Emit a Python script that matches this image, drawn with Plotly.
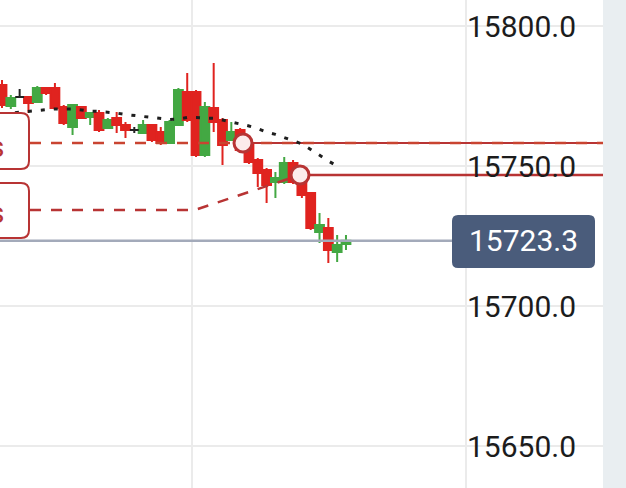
import plotly.graph_objects as go

# ---------------- data ----------------
idx = list(range(40))
opens = [15778.9, 15771.4, 15774.6, 15774.6, 15772.9, 15777.9, 15777.9, 15771.1, 15763.9, 15771.1,
         15767.5, 15768.9, 15763.6, 15767.1, 15764.6, 15762.9, 15761.8, 15764.6, 15762.1, 15758.2,
         15764.6, 15776.4, 15776.4, 15753.9, 15770.7, 15766.4, 15759.3, 15762.9, 15758.2, 15752.1,
         15748.6, 15744.3, 15744.3, 15751.1, 15746.8, 15740.4, 15726.4, 15727.9, 15719.3, 15722.1]
highs = [15780.7, 15775.4, 15777.5, 15775.0, 15778.6, 15778.2, 15779.6, 15771.8, 15772.1, 15771.4,
         15769.3, 15770.0, 15767.1, 15769.3, 15765.7, 15763.9, 15766.4, 15765.0, 15763.9, 15766.4,
         15777.9, 15783.2, 15777.1, 15772.9, 15786.8, 15767.1, 15765.7, 15763.6, 15759.3, 15752.9,
         15749.3, 15747.9, 15753.2, 15752.1, 15747.9, 15740.7, 15733.2, 15731.4, 15725.4, 15725.4]
lows = [15770.7, 15770.4, 15774.6, 15768.9, 15772.5, 15775.4, 15770.0, 15764.6, 15761.1, 15766.8,
        15764.6, 15762.1, 15763.2, 15761.8, 15760.0, 15761.8, 15761.4, 15758.6, 15757.5, 15757.9,
        15764.3, 15765.7, 15753.2, 15753.2, 15762.1, 15750.4, 15758.9, 15755.0, 15750.7, 15742.5,
        15736.8, 15738.6, 15743.6, 15743.6, 15738.6, 15727.1, 15722.5, 15715.4, 15715.7, 15720.0]
closes = [15771.8, 15774.3, 15774.6, 15772.5, 15777.9, 15776.1, 15770.7, 15765.4, 15771.8, 15767.1,
          15768.9, 15762.9, 15766.4, 15764.6, 15762.9, 15762.9, 15764.6, 15759.3, 15758.2, 15765.7,
          15777.1, 15766.4, 15753.9, 15771.1, 15765.7, 15757.5, 15762.1, 15755.7, 15751.4, 15747.5,
          15743.2, 15745.7, 15751.1, 15744.3, 15739.6, 15727.9, 15728.9, 15720.0, 15721.8, 15723.3]
ma_values = [15768.6, 15768.9, 15769.1, 15769.5, 15769.8, 15770.2, 15770.4, 15770.4, 15770.4, 15770.0,
             15769.6, 15769.5, 15769.3, 15768.9, 15768.4, 15768.0, 15767.7, 15767.3, 15767.0, 15766.6,
             15766.8, 15767.3, 15767.3, 15767.1, 15767.0, 15766.4, 15765.7, 15765.2, 15764.3, 15763.4,
             15762.1, 15761.3, 15760.2, 15759.1, 15757.9, 15755.9, 15753.8, 15751.8, 15750.0]
level_upper = 15758.2
level_lower = 15746.8
level_start = 15734.3
current_price = 15723.3
axis_ticks = [15650, 15700, 15750, 15800]
axis_labels = ["15650.0", "15700.0", "15750.0", "15800.0"]

# ---------------- geometry helpers (pixel -> data) ----------------
STEP = 8.82
def X(px):
    return (px - 2) / STEP
def Y(py):
    return 15800 - (py - 26) / 2.8

def rrect(x0, y0, x1, y1, r):
    pts = [
        ("M", x0 + r, y0), ("L", x1 - r, y0), ("Q", x1, y0, x1, y0 + r),
        ("L", x1, y1 - r), ("Q", x1, y1, x1 - r, y1), ("L", x0 + r, y1),
        ("Q", x0, y1, x0, y1 - r), ("L", x0, y0 + r), ("Q", x0, y0, x0 + r, y0),
    ]
    s = ""
    for p in pts:
        if p[0] == "Q":
            s += f"Q{X(p[1])},{Y(p[2])} {X(p[3])},{Y(p[4])} "
        else:
            s += f"{p[0]}{X(p[1])},{Y(p[2])} "
    return s + "Z"

RED = "#e0231f"
GREEN = "#43a843"
LRED = "#b83434"
DRED = "#c94431"

normal = [i for i in idx if opens[i] != closes[i]]
doji = [i for i in idx if opens[i] == closes[i]]

fig = go.Figure()

# current price line
fig.add_trace(go.Scatter(x=[X(0), X(452)], y=[current_price, current_price], mode="lines",
                         line=dict(color="#a3aaba", width=2.5), hoverinfo="skip"))

fig.add_trace(go.Candlestick(
    x=[idx[i] for i in normal], open=[opens[i] for i in normal], high=[highs[i] for i in normal],
    low=[lows[i] for i in normal], close=[closes[i] for i in normal],
    increasing=dict(line=dict(color=GREEN, width=2), fillcolor=GREEN),
    decreasing=dict(line=dict(color=RED, width=2), fillcolor=RED),
    whiskerwidth=0, hoverinfo="skip"))
fig.add_trace(go.Candlestick(
    x=[idx[i] for i in doji], open=[opens[i] for i in doji], high=[highs[i] for i in doji],
    low=[lows[i] for i in doji], close=[closes[i] for i in doji],
    increasing=dict(line=dict(color="#222222", width=2), fillcolor="#222222"),
    decreasing=dict(line=dict(color="#222222", width=2), fillcolor="#222222"),
    whiskerwidth=0, hoverinfo="skip"))

# red level lines
fig.add_trace(go.Scatter(x=[X(243), X(603)], y=[level_upper, level_upper], mode="lines",
                         line=dict(color=LRED, width=2), hoverinfo="skip"))
fig.add_trace(go.Scatter(x=[X(30), X(603)], y=[level_upper, level_upper], mode="lines",
                         line=dict(color=DRED, width=2.5, dash="11px,10px"), hoverinfo="skip"))
fig.add_trace(go.Scatter(x=[X(30), X(195), X(300)], y=[level_start, level_start, level_lower], mode="lines",
                         line=dict(color=LRED, width=2.5, dash="11px,10px"), hoverinfo="skip"))
fig.add_trace(go.Scatter(x=[X(300), X(603)], y=[level_lower, level_lower], mode="lines",
                         line=dict(color=LRED, width=2.5), hoverinfo="skip"))

# moving average dotted
fig.add_trace(go.Scatter(x=idx[:len(ma_values)], y=ma_values, mode="lines",
                         line=dict(color="#1e1e1e", width=3, dash="4px,9px"), hoverinfo="skip"))

# circles
fig.add_trace(go.Scatter(x=[X(243), X(300)], y=[level_upper, level_lower], mode="markers",
                         marker=dict(size=18, color="#fcecec", line=dict(color=LRED, width=3)),
                         hoverinfo="skip"))

shapes = []
for xv in [X(192), X(466)]:
    shapes.append(dict(type="line", xref="x", yref="paper", x0=xv, x1=xv, y0=0, y1=1,
                       line=dict(color="#ebebeb", width=2), layer="below"))
shapes.append(dict(type="path", xref="x", yref="y", path=rrect(-12, 113, 29, 169, 8),
                   fillcolor="white", line=dict(color=LRED, width=2)))
shapes.append(dict(type="path", xref="x", yref="y", path=rrect(-12, 183, 29, 238, 8),
                   fillcolor="white", line=dict(color=LRED, width=2)))
shapes.append(dict(type="path", xref="x", yref="y", path=rrect(452, 215, 595, 268, 6),
                   fillcolor="#4a5c7b", line=dict(width=0)))

annotations = []
for v, t in zip(axis_ticks, axis_labels):
    annotations.append(dict(x=X(578), y=v, xref="x", yref="y", text=t, showarrow=False,
                            xanchor="right", yanchor="middle",
                            font=dict(family="Roboto", size=30, color="#1c1c1c")))
annotations.append(dict(x=X(523.5), y=current_price, xref="x", yref="y", text=f"{current_price:.1f}",
                        showarrow=False, xanchor="center", yanchor="middle",
                        font=dict(family="Roboto", size=30, color="white")))
for py in [146, 212]:
    annotations.append(dict(x=X(6), y=Y(py), xref="x", yref="y", text="s", showarrow=False,
                            xanchor="right", yanchor="middle",
                            font=dict(family="Roboto", size=30, color=LRED)))

fig.update_layout(
    width=626, height=488, autosize=False,
    margin=dict(l=0, r=23, t=0, b=0, pad=0),
    paper_bgcolor="#e9eef1", plot_bgcolor="white",
    showlegend=False, boxmode="overlay", boxgap=0, boxgroupgap=0,
    xaxis=dict(range=[X(0), X(603)], visible=False, rangeslider=dict(visible=False), fixedrange=True),
    yaxis=dict(range=[Y(488), Y(0)], tickvals=axis_ticks, showticklabels=False, gridcolor="#ebebeb",
               gridwidth=2, zeroline=False, fixedrange=True),
    shapes=shapes, annotations=annotations,
)

fig.write_html("out.html", config={"displayModeBar": False},
               post_script="document.body.style.margin='0';document.body.style.padding='0';")
